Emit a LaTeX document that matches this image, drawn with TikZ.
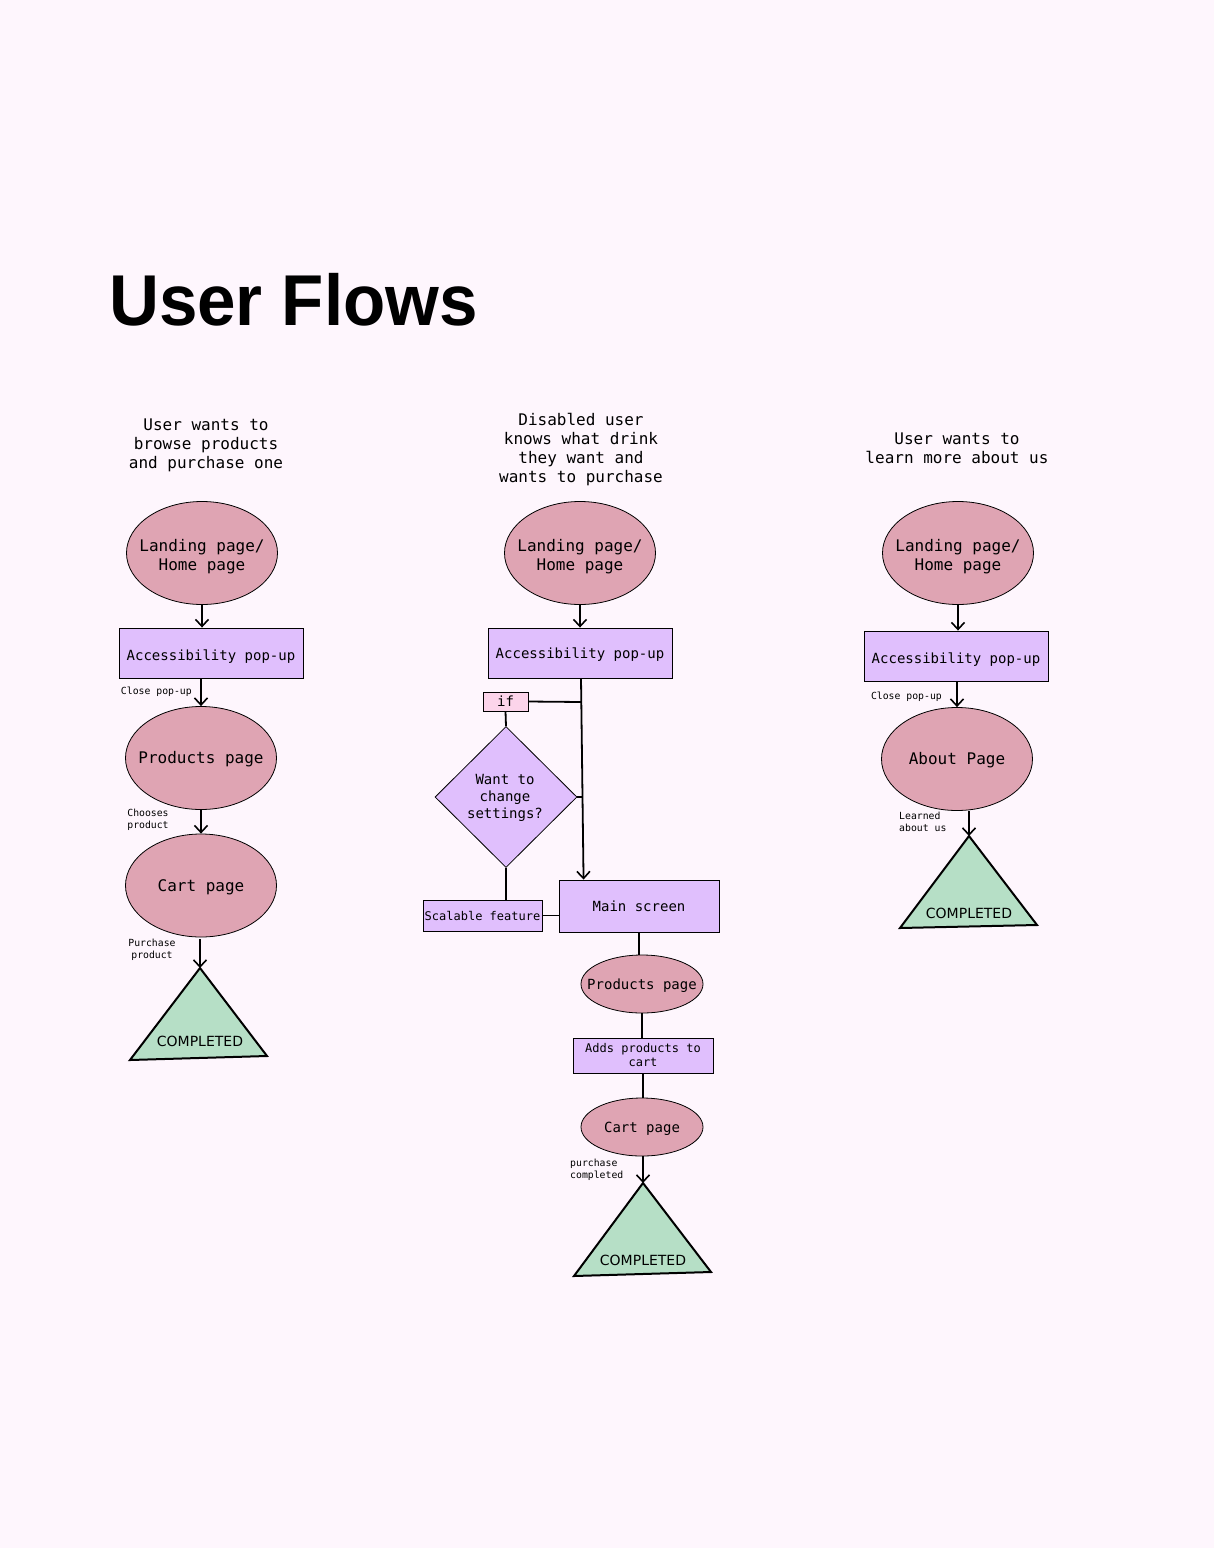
\documentclass[tikz,border=0pt]{standalone}
\usepackage{fontspec}
\setmainfont{DejaVu Sans}
\setmonofont{DejaVu Sans Mono}
\newfontfamily\titlefont{Liberation Sans}
\usetikzlibrary{shapes.geometric,arrows.meta}
\definecolor{bg}{HTML}{FEF6FD}
\definecolor{ellfill}{HTML}{DFA4B3}
\definecolor{boxfill}{HTML}{E0BFFD}
\definecolor{trifill}{HTML}{B6DFC6}
\definecolor{iffill}{HTML}{FCD4EA}
\newcommand\ntx[2][8pt]{\raisebox{0pt}[\dimexpr\height+#1\relax][\depth]{\begin{tabular}{@{}c@{}}#2\end{tabular}}}
\begin{document}
\begin{tikzpicture}[x=1pt,y=-1pt,
 every node/.style={font=\ttfamily\fontsize{14}{19}\selectfont, inner sep=0pt, align=center, text=black},
 page/.style={ellipse, draw=black, fill=ellfill, line width=0.8pt, inner xsep=-14pt, minimum width=151pt, minimum height=103pt, font=\ttfamily\fontsize{16}{19}\selectfont},
 smallpage/.style={ellipse, draw=black, fill=ellfill, line width=0.8pt, inner xsep=-14pt, minimum width=122pt, minimum height=58pt},
 stepbox/.style={rectangle, draw=black, fill=boxfill, line width=0.9pt},
 conn/.style={line width=1.8pt},
 arr/.style={conn, -{Straight Barb[length=7pt,width=13pt,line width=1.6pt]}},
 lbl/.style={font=\ttfamily\fontsize{9.8}{12}\selectfont},
 head/.style={font=\ttfamily\fontsize{16}{19}\selectfont},
 tri/.style={draw=black, fill=trifill, line width=2pt, line join=miter},
 done/.style={font=\rmfamily\fontsize{14}{16}\selectfont}
]
\fill[bg] (0,0) rectangle (1214,1548);
\useasboundingbox (0,0) rectangle (1214,1548);

% title
\node[anchor=base west, font=\titlefont\bfseries\fontsize{72}{72}\selectfont, xscale=0.96] (title) at (109,325) {User Flows};

% ---------- left flow ----------
\node[head] (h1) at (206,445) {User wants to\\browse products\\and purchase one};
\node[page] (l1) at (202,553) {\ntx{Landing page/\\Home page}};
\node[stepbox, minimum width=184pt, minimum height=50pt] (acc1) at (211,653) {\ntx{Accessibility pop-up}};
\node[page] (prod1) at (201,758) {\ntx[4pt]{Products page}};
\node[page] (cart1) at (201,885.5) {\ntx[4pt]{Cart page}};
\coordinate (t1) at (200,968);
\filldraw[tri] (t1) -- (267,1056) -- (130,1060) -- cycle;
\node[done] (c1) at (200,1041) {COMPLETED};

\draw[arr] (l1.south) -- (l1.south |- acc1.north);
\draw[arr] (acc1.south -| prod1.north) -- (prod1.north);
\draw[arr] (prod1.south) -- (cart1.north);
\draw[arr] ([yshift=-2pt]cart1.south -| t1) -- (t1);
\node[lbl, anchor=east] (cl1) at (192,692) {Close pop-up};
\node[lbl] (cp1) at (148,820) {Chooses\\product};
\node[lbl] (pp1) at (152,950) {Purchase\\product};

% ---------- middle flow ----------
\node[head] (h2) at (581,450) {Disabled user\\knows what drink\\they want and\\wants to purchase};
\node[page] (l2) at (580,553) {\ntx{Landing page/\\Home page}};
\node[stepbox, minimum width=184pt, minimum height=50pt] (acc2) at (580,653) {\ntx[4pt]{Accessibility pop-up}};
\node[rectangle, draw=black, fill=iffill, line width=0.9pt, minimum width=45pt, minimum height=19pt] (if) at (505.5,701.5) {if};
\node[diamond, draw=black, fill=boxfill, line width=0.8pt, aspect=1, minimum width=142pt, minimum height=141pt] (dia) at (506,797) {};
\node[font=\ttfamily\fontsize{14}{17}\selectfont] (diat) at (505,798) {Want to\\change\\settings?};
\node[stepbox, minimum width=160pt, minimum height=52pt] (main) at (639,906) {Main screen};
\node[stepbox, minimum width=119pt, minimum height=31pt, font=\ttfamily\fontsize{12}{14}\selectfont] (scal) at (482.5,915.5) {Scalable feature};
\node[smallpage] (prod2) at (642,984) {\ntx[4pt]{Products page}};
\node[stepbox, minimum width=140pt, minimum height=35pt, font=\ttfamily\fontsize{12}{14}\selectfont] (adds) at (643,1055.5) {Adds products to\\cart};
\node[smallpage] (cart2) at (642,1127) {\ntx[4pt]{Cart page}};
\coordinate (t2) at (643,1183);
\filldraw[tri] (t2) -- (711,1272) -- (574,1276) -- cycle;
\node[done] (c2) at (643,1260) {COMPLETED};

\draw[arr] (l2.south) -- (l2.south |- acc2.north);
\coordinate (j0) at (581,678);
\coordinate (j1) at (581.2,702);
\coordinate (j2) at (582.5,797);
\draw[arr] (j0) -- ([xshift=25pt]main.north west);
\draw[conn] (if.east) -- (j1);
\draw[conn] (if.south) -- (dia.north);
\draw[conn] (dia.east) -- (j2);
\draw[conn] (dia.south) -- (dia.south |- scal.north);
\draw[conn] (scal.east) -- (scal.east -| main.west);
\draw[conn] (main.south) -- (main.south |- prod2.north);
\draw[conn] (prod2.south) -- (prod2.south |- adds.north);
\draw[conn] (adds.south) -- (adds.south |- cart2.north);
\draw[arr] (cart2.south -| t2) -- (t2);
\node[lbl, anchor=west, align=left] (pc2) at (570,1170) {purchase\\completed};

% ---------- right flow ----------
\node[head] (h3) at (957,448) {User wants to\\learn more about us};
\node[page] (l3) at (958,553) {\ntx{Landing page/\\Home page}};
\node[stepbox, minimum width=184pt, minimum height=50pt] (acc3) at (956,656) {\ntx{Accessibility pop-up}};
\node[page] (about) at (957,759) {\ntx[4pt]{About Page}};
\coordinate (t3) at (969,836);
\filldraw[tri] (t3) -- (1037,925) -- (900,928) -- cycle;
\node[done] (c3) at (969,913) {COMPLETED};

\draw[arr] (l3.south) -- (l3.south |- acc3.north);
\draw[arr] (acc3.south -| about.north) -- (about.north);
\draw[arr] (about.south -| t3) -- (t3);
\node[lbl, anchor=east] (cl3) at (942,697) {Close pop-up};
\node[lbl, anchor=west, align=left] (la3) at (899,822) {Learned\\about us};
\end{tikzpicture}
\end{document}
